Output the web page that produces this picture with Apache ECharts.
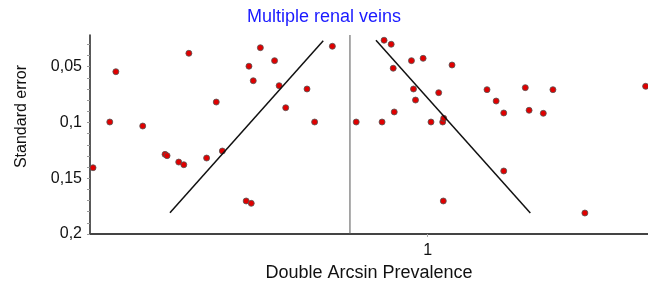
<!DOCTYPE html>
<html>
<head>
<meta charset="utf-8">
<script src="https://cdn.jsdelivr.net/npm/echarts@6/dist/echarts.min.js"></script>
<style>
  html, body {margin: 0; padding: 0; background: #fff;}
  #funnel {width: 648px; height: 284px;}
</style>
</head>
<body>
<div id="funnel"></div>
<script>
  // studies: [double arcsin prevalence, standard error]
  var studies = [
    [0.340, 0.1406], [0.373, 0.0996], [0.385, 0.0545], [0.438, 0.1032],
    [0.482, 0.1286], [0.486, 0.1298], [0.509, 0.1355], [0.519, 0.1379],
    [0.529, 0.0380], [0.564, 0.1319], [0.583, 0.0817], [0.595, 0.1256],
    [0.642, 0.1704], [0.652, 0.1725], [0.6475, 0.0496], [0.656, 0.0626],
    [0.670, 0.0330], [0.698, 0.0446], [0.707, 0.0670], [0.720, 0.0868],
    [0.762, 0.0700], [0.777, 0.0996], [0.812, 0.0317], [0.859, 0.0996],
    [0.910, 0.0996], [0.914, 0.0263], [0.928, 0.0299], [0.932, 0.0514],
    [0.934, 0.0906], [0.968, 0.0446], [0.972, 0.0700], [0.976, 0.0799],
    [0.991, 0.0425], [1.0065, 0.0996], [1.0217, 0.0733], [1.0296, 0.0996],
    [1.0316, 0.0963], [1.0308, 0.1704], [1.048, 0.0485], [1.117, 0.0706],
    [1.135, 0.0808], [1.150, 0.0915], [1.150, 0.1435], [1.1925, 0.0688],
    [1.200, 0.0891], [1.228, 0.0918], [1.247, 0.0706], [1.310, 0.1812],
    [1.4298, 0.0676]
  ];
  var pooled = 0.8467;
  var leftLimit = [[0.4917, 0.1809], [0.794, 0.0267]];
  var rightLimit = [[0.898, 0.0263], [1.2024, 0.1812]];
  var xTicks = [1];
  var yTicks = [0.05, 0.1, 0.15, 0.2];
  var yMinorTicks = [0.03, 0.04, 0.05, 0.06, 0.07, 0.08, 0.09, 0.1, 0.11, 0.12, 0.13,
    0.14, 0.15, 0.16, 0.17, 0.18, 0.19, 0.2];
  var xRange = [0.334, 1.4345];
  var yRange = [0.0216, 0.2];

  var font = 'Liberation Sans, Arial, sans-serif';
  var chart = echarts.init(document.getElementById('funnel'));
  chart.setOption({
    animation: false,
    title: {
      text: 'Multiple renal veins',
      left: 'center',
      top: 3,
      padding: [5, 0, 5, 7],
      textStyle: {color: '#1a1aff', fontSize: 18, fontWeight: 'normal', fontFamily: font}
    },
    grid: {left: 90, right: 0, top: 35, bottom: 50, outerBoundsMode: 'none', containLabel: false},
    xAxis: {
      type: 'value',
      min: xRange[0],
      max: xRange[1],
      name: 'Double Arcsin Prevalence',
      nameLocation: 'middle',
      nameGap: 28,
      nameTextStyle: {color: '#111', fontSize: 18, fontFamily: font},
      splitLine: {show: false},
      axisLine: {lineStyle: {color: '#444', width: 2}},
      axisTick: {customValues: xTicks, length: 3, lineStyle: {color: '#aaa'}},
      axisLabel: {customValues: xTicks, margin: 9, color: '#111', fontSize: 16, fontFamily: font}
    },
    yAxis: {
      type: 'value',
      inverse: true,
      min: yRange[0],
      max: yRange[1],
      name: 'Standard error',
      nameLocation: 'middle',
      nameGap: 60,
      nameTextStyle: {color: '#111', fontSize: 16, fontFamily: font, padding: [0, 0, 0, 36]},
      splitLine: {show: false},
      axisLine: {lineStyle: {color: '#222', width: 1.5}},
      axisTick: {customValues: yMinorTicks, length: 3, lineStyle: {color: '#999'}},
      axisLabel: {
        customValues: yTicks, margin: 8, color: '#111', fontSize: 16, fontFamily: font,
        formatter: function (v) {
          return String(v).replace('.', ',');
        }
      }
    },
    series: [
      {
        type: 'line',
        data: [[pooled, yRange[0]], [pooled, yRange[1]]],
        showSymbol: false,
        lineStyle: {color: '#555', width: 1}
      },
      {
        type: 'line',
        data: leftLimit,
        showSymbol: false,
        lineStyle: {color: '#111', width: 1.5}
      },
      {
        type: 'line',
        data: rightLimit,
        showSymbol: false,
        lineStyle: {color: '#111', width: 1.5}
      },
      {
        type: 'scatter',
        data: studies,
        symbolSize: 6,
        itemStyle: {color: '#e00000', borderColor: '#555', borderWidth: 0.8, opacity: 1}
      }
    ]
  });
</script>
</body>
</html>
